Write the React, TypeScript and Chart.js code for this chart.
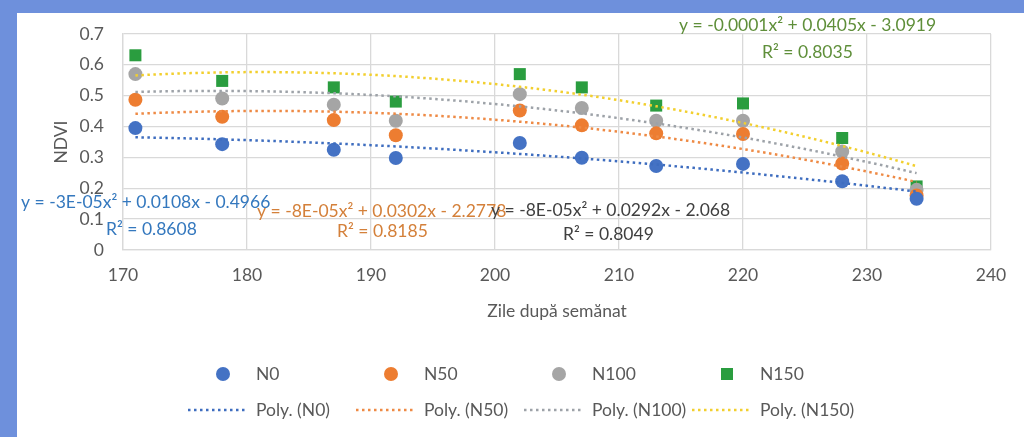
import React, { useEffect, useRef } from 'react';
import { Chart, registerables } from 'chart.js';

Chart.register(...registerables);

// ---------- data ----------
const DAYS = [171, 178, 187, 192, 202, 207, 213, 220, 228, 234];
const N0 = [0.395, 0.343, 0.325, 0.298, 0.347, 0.299, 0.272, 0.279, 0.223, 0.166];
const N50 = [0.487, 0.432, 0.421, 0.372, 0.452, 0.404, 0.378, 0.376, 0.28, 0.177];
const N100 = [0.57, 0.491, 0.471, 0.419, 0.505, 0.46, 0.419, 0.419, 0.319, 0.195];
const N150 = [0.631, 0.548, 0.527, 0.481, 0.57, 0.527, 0.468, 0.475, 0.363, 0.206];

const SERIES_NAMES = ['N0', 'N50', 'N100', 'N150'];
const TREND_NAMES = ['Poly. (N0)', 'Poly. (N50)', 'Poly. (N100)', 'Poly. (N150)'];
const EQUATIONS = [
  'y = -3E-05x² + 0.0108x - 0.4966',
  'y = -8E-05x² + 0.0302x - 2.2778',
  'y = -8E-05x² + 0.0292x - 2.068',
  'y = -0.0001x² + 0.0405x - 3.0919',
];
const R2_LABELS = ['R² = 0.8608', 'R² = 0.8185', 'R² = 0.8049', 'R² = 0.8035'];
const X_TITLE = 'Zile după semănat';
const Y_TITLE = 'NDVI';
const X_MIN = 170;
const X_MAX = 240;
const X_STEP = 10;
const Y_MIN = 0;
const Y_MAX = 0.7;
const Y_STEP = 0.1;

// ---------- styles ----------
const SERIES_VALUES = [N0, N50, N100, N150];
const POINT_COLORS = ['#4472C4', '#ED7D31', '#A5A5A5', '#2A9D3F'];
const POINT_STYLES = ['circle', 'circle', 'circle', 'rect'];
const POINT_RADII = [7, 7, 7, 8.5];
const TREND_COLORS = ['#3E6DBF', '#EE8A45', '#9DA2A8', '#F2CF2E'];
const EQ_COLORS = ['#3478BE', '#D4803A', '#3F3F3F', '#5F8F3A'];
const FONT_FAMILY = "Lato, 'Liberation Sans', sans-serif";
const FONT_SIZE = 17.5;
const TEXT_COLOR = '#595959';
const GRID_COLOR = '#D9D9D9';
const BORDER_BLUE = '#6E90DC';

// least-squares quadratic fit (Excel polynomial trendline, order 2)
function fitQuadratic(xs: number[], ys: number[]) {
  const n = xs.length;
  const mx = xs.reduce((a, b) => a + b, 0) / n;
  let s1 = 0, s2 = 0, s3 = 0, s4 = 0, t0 = 0, t1 = 0, t2 = 0;
  for (let i = 0; i < n; i++) {
    const u = xs[i] - mx;
    const y = ys[i];
    s1 += u; s2 += u * u; s3 += u * u * u; s4 += u * u * u * u;
    t0 += y; t1 += u * y; t2 += u * u * y;
  }
  const A = [
    [n, s1, s2, t0],
    [s1, s2, s3, t1],
    [s2, s3, s4, t2],
  ];
  for (let c = 0; c < 3; c++) {
    let p = c;
    for (let r = c + 1; r < 3; r++) if (Math.abs(A[r][c]) > Math.abs(A[p][c])) p = r;
    [A[c], A[p]] = [A[p], A[c]];
    for (let r = 0; r < 3; r++) {
      if (r === c) continue;
      const f = A[r][c] / A[c][c];
      for (let k = c; k < 4; k++) A[r][k] -= f * A[c][k];
    }
  }
  const a0 = A[0][3] / A[0][0];
  const a1 = A[1][3] / A[1][1];
  const a2 = A[2][3] / A[2][2];
  return (x: number) => {
    const u = x - mx;
    return a0 + a1 * u + a2 * u * u;
  };
}

function trendPoints(vals: number[]) {
  const f = fitQuadratic(DAYS, vals);
  const pts: { x: number; y: number }[] = [];
  const x0 = DAYS[0];
  const x1 = DAYS[DAYS.length - 1];
  for (let x = x0; x <= x1 + 1e-9; x += 0.5) pts.push({ x, y: f(x) });
  return pts;
}

const font = (size = FONT_SIZE) => `${size}px ${FONT_FAMILY}`;

const decorPlugin = {
  id: 'decor',
  beforeDraw(chart: any) {
    const { ctx, width, height } = chart;
    ctx.save();
    ctx.fillStyle = BORDER_BLUE;
    ctx.fillRect(0, 0, width, height);
    ctx.fillStyle = '#FFFFFF';
    ctx.fillRect(17, 13, width - 17, height - 13);
    ctx.restore();
  },
  afterDraw(chart: any) {
    const { ctx } = chart;
    ctx.save();
    ctx.textBaseline = 'middle';
    ctx.textAlign = 'left';
    ctx.font = font();
    // trendline equations
    const eqPos = [
      [21, 202, 106, 229],
      [257, 211, 337, 231],
      [491, 210, 563, 234],
      [679, 25, 762, 52],
    ];
    EQUATIONS.forEach((eq, i) => {
      ctx.fillStyle = EQ_COLORS[i];
      ctx.fillText(eq, eqPos[i][0], eqPos[i][1]);
      ctx.fillText(R2_LABELS[i], eqPos[i][2], eqPos[i][3]);
    });
    // legend
    const textX0 = 256;
    const colStep = 168;
    const row1 = 374;
    const row2 = 410;
    SERIES_NAMES.forEach((name, i) => {
      const tx = textX0 + i * colStep;
      const mx = tx - 33;
      ctx.fillStyle = POINT_COLORS[i];
      if (POINT_STYLES[i] === 'rect') {
        ctx.fillRect(mx - 6, row1 - 6, 12, 12);
      } else {
        ctx.beginPath();
        ctx.arc(mx, row1, 7, 0, Math.PI * 2);
        ctx.fill();
      }
      ctx.fillStyle = TEXT_COLOR;
      ctx.fillText(name, tx, row1);
    });
    TREND_NAMES.forEach((name, i) => {
      const tx = textX0 + i * colStep;
      ctx.strokeStyle = TREND_COLORS[i];
      ctx.lineWidth = 2.5;
      ctx.setLineDash([2.5, 3.5]);
      ctx.beginPath();
      ctx.moveTo(tx - 68, row2);
      ctx.lineTo(tx - 10, row2);
      ctx.stroke();
      ctx.setLineDash([]);
      ctx.fillStyle = TEXT_COLOR;
      ctx.fillText(name, tx, row2);
    });
    ctx.restore();
  },
};

export default function App() {
  const ref = useRef<HTMLCanvasElement | null>(null);

  useEffect(() => {
    if (!ref.current) return;
    const trendSets = SERIES_VALUES.map((vals, i) => ({
      type: 'line' as const,
      label: TREND_NAMES[i],
      data: trendPoints(vals),
      borderColor: TREND_COLORS[i],
      backgroundColor: TREND_COLORS[i],
      borderWidth: 2.5,
      borderDash: [2.5, 3.5],
      borderCapStyle: 'butt' as const,
      pointRadius: 0,
      fill: false,
      tension: 0,
      order: 0,
    }));
    const pointSets = SERIES_VALUES.map((vals, i) => ({
      type: 'scatter' as const,
      label: SERIES_NAMES[i],
      data: DAYS.map((x, j) => ({ x, y: vals[j] })),
      backgroundColor: POINT_COLORS[i],
      borderColor: POINT_COLORS[i],
      borderWidth: 0,
      pointStyle: POINT_STYLES[i],
      pointRadius: POINT_RADII[i],
      order: 1,
    }));

    const chart = new Chart(ref.current, {
      type: 'scatter',
      data: { datasets: [...trendSets, ...pointSets] as any },
      options: {
        responsive: false,
        animation: false,
        devicePixelRatio: 1,
        layout: { padding: { left: 20, right: 33, top: 34, bottom: 107 } },
        plugins: { legend: { display: false }, tooltip: { enabled: false } },
        scales: {
          x: {
            type: 'linear',
            min: X_MIN,
            max: X_MAX,
            ticks: { stepSize: X_STEP, padding: 15, color: TEXT_COLOR, font: { family: FONT_FAMILY, size: FONT_SIZE } },
            grid: { color: GRID_COLOR, lineWidth: 1.3, drawTicks: false },
            border: { color: GRID_COLOR, width: 1.3 },
            title: {
              display: true,
              text: X_TITLE,
              color: TEXT_COLOR,
              font: { family: FONT_FAMILY, size: FONT_SIZE },
              padding: { top: 0, bottom: 8 },
            },
            afterFit: (s: any) => { s.height = 80; },
          },
          y: {
            type: 'linear',
            min: Y_MIN,
            max: Y_MAX,
            ticks: {
              stepSize: Y_STEP,
              padding: 19,
              color: TEXT_COLOR,
              font: { family: FONT_FAMILY, size: FONT_SIZE },
              callback: (v: any) => (Math.abs(v) < 1e-9 ? '0' : Number(v).toFixed(1)),
            },
            grid: { color: GRID_COLOR, lineWidth: 1.3, drawTicks: false },
            border: { color: GRID_COLOR, width: 1.3 },
            title: {
              display: true,
              text: Y_TITLE,
              color: TEXT_COLOR,
              font: { family: FONT_FAMILY, size: FONT_SIZE },
              padding: { top: 31, bottom: 0 },
            },
            afterFit: (s: any) => { s.width = 103; },
          },
        },
      },
      plugins: [decorPlugin],
    } as any);
    return () => chart.destroy();
  }, []);

  return (
    <div style={{ position: 'fixed', left: 0, top: 0, width: 1024, height: 437 }}>
      <canvas ref={ref} width={1024} height={437} style={{ display: 'block', width: 1024, height: 437 }} />
    </div>
  );
}
